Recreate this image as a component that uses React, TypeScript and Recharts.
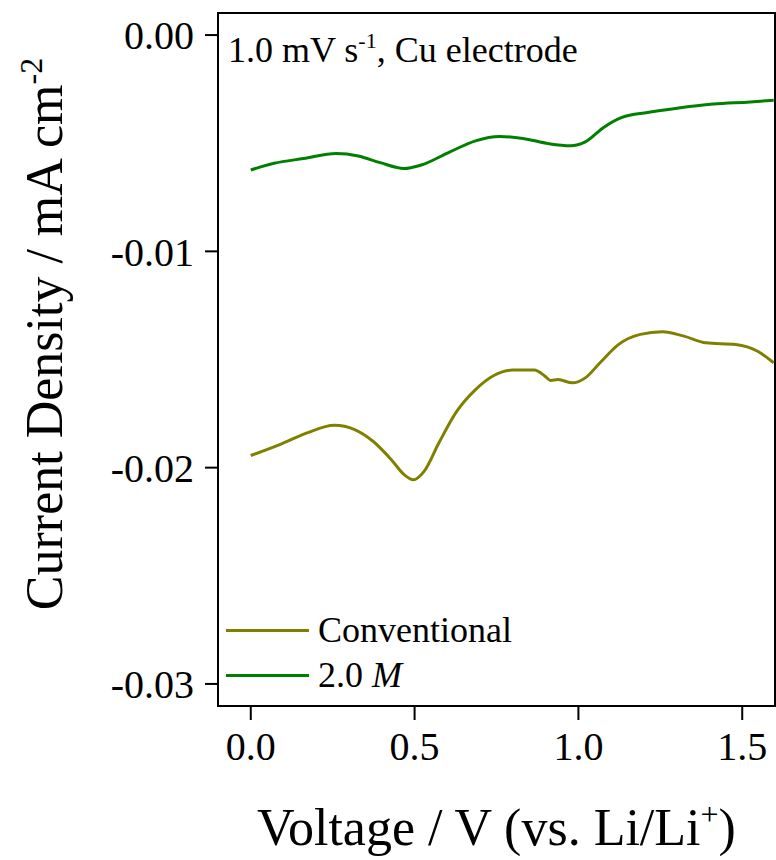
import { LineChart, Line, XAxis, YAxis, ReferenceArea, Legend } from 'recharts'

// Conventional electrolyte, 1.0 mV/s on Cu
const convVoltage = [0, 0.094, 0.172, 0.255, 0.317, 0.373, 0.429, 0.468, 0.496, 0.529, 0.574, 0.629, 0.686, 0.742, 0.798, 0.865, 0.898, 0.915, 0.938, 0.982, 1.021, 1.066, 1.122, 1.189, 1.256, 1.322, 1.389, 1.48, 1.547, 1.596]
const convCurrent = [-0.01944, -0.0189, -0.01839, -0.01804, -0.01824, -0.01878, -0.01963, -0.02032, -0.02056, -0.02017, -0.01886, -0.01739, -0.01639, -0.01574, -0.01549, -0.01549, -0.01577, -0.01597, -0.01593, -0.01608, -0.01585, -0.01515, -0.01431, -0.01384, -0.01372, -0.01392, -0.01423, -0.01431, -0.01462, -0.01515]

// 2.0 M electrolyte
const m2Voltage = [0, 0.071, 0.161, 0.261, 0.328, 0.395, 0.468, 0.518, 0.608, 0.686, 0.759, 0.831, 0.909, 0.976, 1.021, 1.077, 1.133, 1.211, 1.301, 1.412, 1.524, 1.596]
const m2Current = [-0.00624, -0.00593, -0.00571, -0.00548, -0.00559, -0.0059, -0.00617, -0.00602, -0.0054, -0.00489, -0.00469, -0.00478, -0.00502, -0.00512, -0.00494, -0.00427, -0.00381, -0.00358, -0.00338, -0.00319, -0.00309, -0.00301]

const seriesNames = ['Conventional', '2.0 M']
const xTicks = [0, 0.5, 1.0, 1.5]
const yTicks = [0, -0.01, -0.02, -0.03]
const xDomain = [-0.1, 1.6]
const yDomain = [-0.03102, 0.00102]

const FONT = '"Liberation Serif", "Times New Roman", serif'

const convData = convVoltage.map((v, i) => ({ v, j: convCurrent[i] }))
const m2Data = m2Voltage.map((v, i) => ({ v, j: m2Current[i] }))

function XLabel(props: any) {
  const vb = props.viewBox || { x: 218, y: 706, width: 557, height: 154 }
  return (
    <text x={vb.x + vb.width / 2} y={vb.y + 139} textAnchor="middle" fontFamily={FONT} fontSize={52} fill="#000">
      Voltage / V (vs. Li/Li
      <tspan fontSize={32} dy={-20}>+</tspan>
      <tspan dy={20}>)</tspan>
    </text>
  )
}

function YLabel() {
  const x = 62
  const y = 334
  return (
    <text x={x} y={y} transform={`rotate(-90, ${x}, ${y})`} textAnchor="middle" fontFamily={FONT} fontSize={52} fill="#000">
      Current Density / mA cm
      <tspan fontSize={32} dy={-20}>-2</tspan>
    </text>
  )
}

function legendName(name: string) {
  if (name.endsWith(' M')) {
    return (
      <>
        {name.slice(0, -1)}
        <i>M</i>
      </>
    )
  }
  return name
}

function renderLegend(props: any) {
  const items = [...(props.payload || [])].sort(
    (a: any, b: any) => seriesNames.indexOf(a.value) - seriesNames.indexOf(b.value)
  )
  return (
    <div>
      {items.map((item: any) => (
        <div key={item.value} style={{ display: 'flex', alignItems: 'center', height: 45 }}>
          <span style={{ display: 'inline-block', width: 83, height: 3, background: item.color }} />
          <span style={{ marginLeft: 9, fontSize: 36, lineHeight: '45px', fontFamily: FONT, color: '#000', whiteSpace: 'nowrap' }}>
            {legendName(item.value)}
          </span>
        </div>
      ))}
    </div>
  )
}

export default function App() {
  return (
    <div style={{ position: 'absolute', left: 0, top: 0, width: 776, height: 860, background: '#fff' }}>
      <LineChart width={776} height={860} margin={{ top: 13, right: 1, bottom: 0, left: 0 }}>
        <XAxis
          dataKey="v"
          type="number"
          domain={xDomain}
          ticks={xTicks}
          allowDataOverflow
          height={154}
          axisLine={false}
          tickLine={{ stroke: '#000', strokeWidth: 2 }}
          tickSize={14}
          tickMargin={12}
          tickFormatter={(v: number) => v.toFixed(1)}
          tick={{ fill: '#000', fontSize: 40, fontFamily: FONT }}
          label={<XLabel />}
        />
        <YAxis
          type="number"
          domain={yDomain}
          ticks={yTicks}
          allowDataOverflow
          width={218}
          axisLine={false}
          tickLine={{ stroke: '#000', strokeWidth: 2 }}
          tickSize={13}
          tickMargin={11}
          tickFormatter={(v: number) => (v === 0 ? '0.00' : v.toFixed(2))}
          tick={{ fill: '#000', fontSize: 40, fontFamily: FONT }}
          label={<YLabel />}
        />
        <ReferenceArea
          x1={xDomain[0]}
          x2={xDomain[1]}
          y1={yDomain[0]}
          y2={yDomain[1]}
          fill="none"
          stroke="#000"
          strokeWidth={2}
        />
        <Line data={convData} dataKey="j" name={seriesNames[0]} type="monotone" stroke="#808000" strokeWidth={3} dot={false} isAnimationActive={false} />
        <Line data={m2Data} dataKey="j" name={seriesNames[1]} type="monotone" stroke="#008000" strokeWidth={3} dot={false} isAnimationActive={false} />
        <Legend
          layout="vertical"
          align="center"
          verticalAlign="middle"
          content={renderLegend}
          wrapperStyle={{ left: 226, top: 608, width: 'auto' }}
        />
      </LineChart>
      <svg width={776} height={120} style={{ position: 'absolute', left: 0, top: 0, pointerEvents: 'none' }}>
        <text x={228} y={62} fontFamily={FONT} fontSize={36} fill="#000">
          1.0 mV s
          <tspan fontSize={22} dy={-14}>-1</tspan>
          <tspan dy={14}>, Cu electrode</tspan>
        </text>
      </svg>
    </div>
  )
}
